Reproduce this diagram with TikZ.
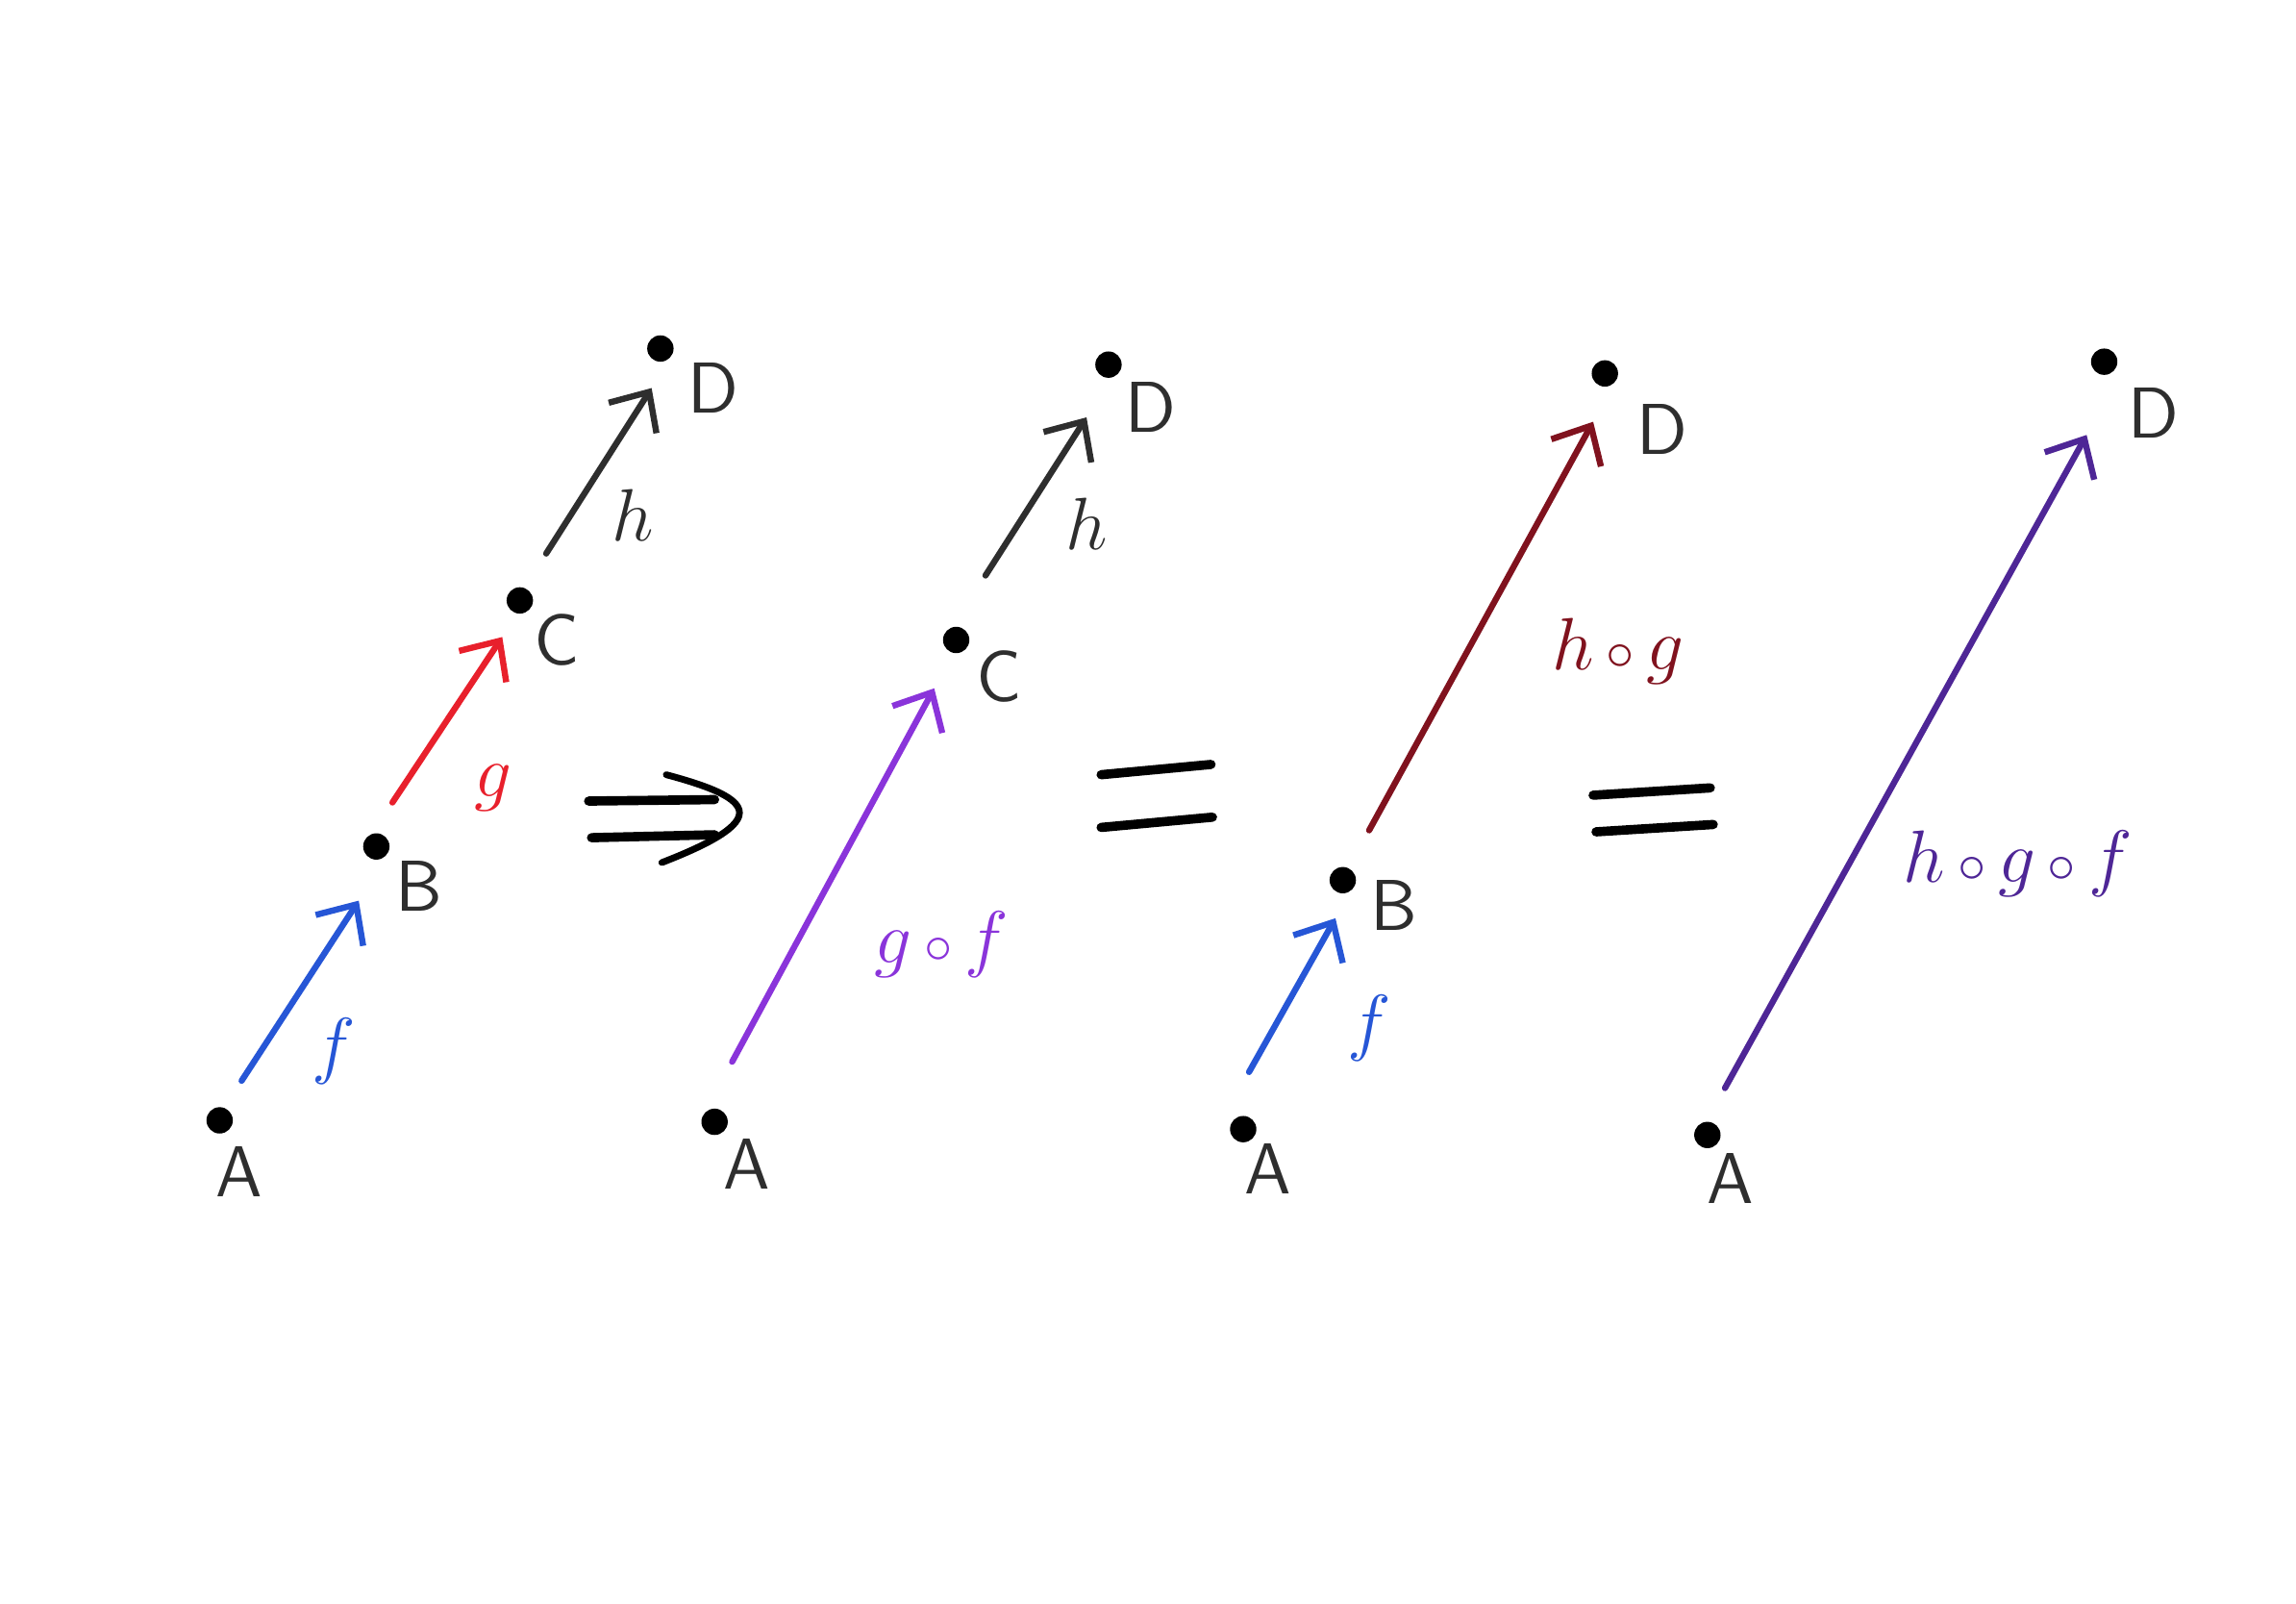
\documentclass[tikz,border=0pt]{standalone}
\usepackage{amsmath}
\usepackage{tikz}
\usetikzlibrary{positioning, arrows.meta, calc}
\definecolor{ink}{gray}{0.18}
\definecolor{fblue}{RGB}{38,86,214}
\definecolor{gred}{RGB}{232,32,44}
\definecolor{gofpurple}{RGB}{138,52,218}
\definecolor{hogred}{RGB}{128,18,30}
\definecolor{hogfindigo}{RGB}{78,38,150}
\newcommand{\cmp}{\mkern3mu{\scriptstyle\circ}\mkern3mu}

\begin{document}
\begin{tikzpicture}[
  dot/.style={circle, fill=black, inner sep=0pt, minimum size=1.8mm},
  pt/.style={font=\fontsize{14}{16}\selectfont\sffamily, text=ink, inner sep=0pt},
  fn/.style={font=\fontsize{15}{17}\selectfont, inner sep=0pt},
  ar/.style={-{Straight Barb[length=6pt, width=11pt, line width=1.2pt]},
             line width=1.2pt, line cap=round},
  bar/.style={line width=1.8pt, line cap=round},
]
\useasboundingbox (0,0) rectangle (15.68,10.95);

% A -> B -> C -> D
\node[dot] (A1) at (1.50,3.30) {};
\node[dot] (B1) at (2.57,5.17) {};
\node[dot] (C1) at (3.55,6.85) {};
\node[dot] (D1) at (4.51,8.57) {};
\node[pt] (lA1) at (1.63,2.95) {A};
\node[pt] (lB1) at (2.86,4.90) {B};
\node[pt] (lC1) at (3.80,6.58) {C};
\node[pt] (lD1) at (4.87,8.30) {D};
\draw[ar, fblue] ([shift={(0.15,0.27)}]A1.center) -- ([shift={(-0.12,-0.37)}]B1.center);
\draw[ar, gred]  ([shift={(0.11,0.30)}]B1.center) -- ([shift={(-0.12,-0.25)}]C1.center);
\draw[ar, ink]   ([shift={(0.18,0.32)}]C1.center) -- ([shift={(-0.06,-0.27)}]D1.center);
\node[fn, text=fblue] (f1) at (2.28,3.77) {$f$};
\node[fn, text=gred]  (g1) at (3.37,5.57) {$g$};
\node[fn, text=ink]   (h1) at (4.32,7.43) {$h$};

% implies
\draw[bar] (4.02,5.48) -- (4.88,5.49);
\draw[bar] (4.04,5.23) -- (4.88,5.25);
\draw[line width=1.3pt, line cap=round]
  (4.55,5.66) .. controls (4.85,5.58) and (5.05,5.50) .. (5.05,5.40)
              .. controls (5.05,5.28) and (4.75,5.15) .. (4.52,5.06);

% A -> C -> D
\node[dot] (A2) at (4.88,3.29) {};
\node[dot] (C2) at (6.53,6.58) {};
\node[dot] (D2) at (7.57,8.46) {};
\node[pt] (lA2) at (5.10,3.00) {A};
\node[pt] (lC2) at (6.82,6.33) {C};
\node[pt] (lD2) at (7.86,8.17) {D};
\draw[ar, gofpurple] ([shift={(0.12,0.41)}]A2.center) -- ([shift={(-0.15,-0.33)}]C2.center);
\draw[ar, ink]       ([shift={(0.20,0.44)}]C2.center) -- ([shift={(-0.15,-0.36)}]D2.center);
\node[fn, text=gofpurple] (gof2) at (6.43,4.50) {$g\cmp f$};
\node[fn, text=ink]       (h2)   at (7.42,7.37) {$h$};

\draw[bar] (7.52,5.66) -- (8.27,5.73);
\draw[bar] (7.52,5.30) -- (8.28,5.37);

% A -> B -> D
\node[dot] (A3) at (8.49,3.24) {};
\node[dot] (B3) at (9.17,4.94) {};
\node[dot] (D3) at (10.96,8.40) {};
\node[pt] (lA3) at (8.66,2.97) {A};
\node[pt] (lB3) at (9.52,4.77) {B};
\node[pt] (lD3) at (11.35,8.02) {D};
\draw[ar, fblue]  ([shift={(0.04,0.39)}]A3.center) -- ([shift={(-0.05,-0.26)}]B3.center);
\draw[ar, hogred] ([shift={(0.18,0.34)}]B3.center) -- ([shift={(-0.08,-0.33)}]D3.center);
\node[fn, text=fblue]  (f3)   at (9.35,3.93) {$f$};
\node[fn, text=hogred] (hog3) at (11.05,6.50) {$h\cmp g$};

\draw[bar] (10.88,5.52) -- (11.68,5.57);
\draw[bar] (10.90,5.27) -- (11.70,5.32);

% A -> D
\node[dot] (A4) at (11.66,3.20) {};
\node[dot] (D4) at (14.37,8.48) {};
\node[pt] (lA4) at (11.82,2.90) {A};
\node[pt] (lD4) at (14.71,8.13) {D};
\draw[ar, hogfindigo] ([shift={(0.12,0.32)}]A4.center) -- ([shift={(-0.12,-0.50)}]D4.center);
\node[fn, text=hogfindigo] (hogf4) at (13.78,5.05) {$h\cmp g\cmp f$};
\end{tikzpicture}
\end{document}
